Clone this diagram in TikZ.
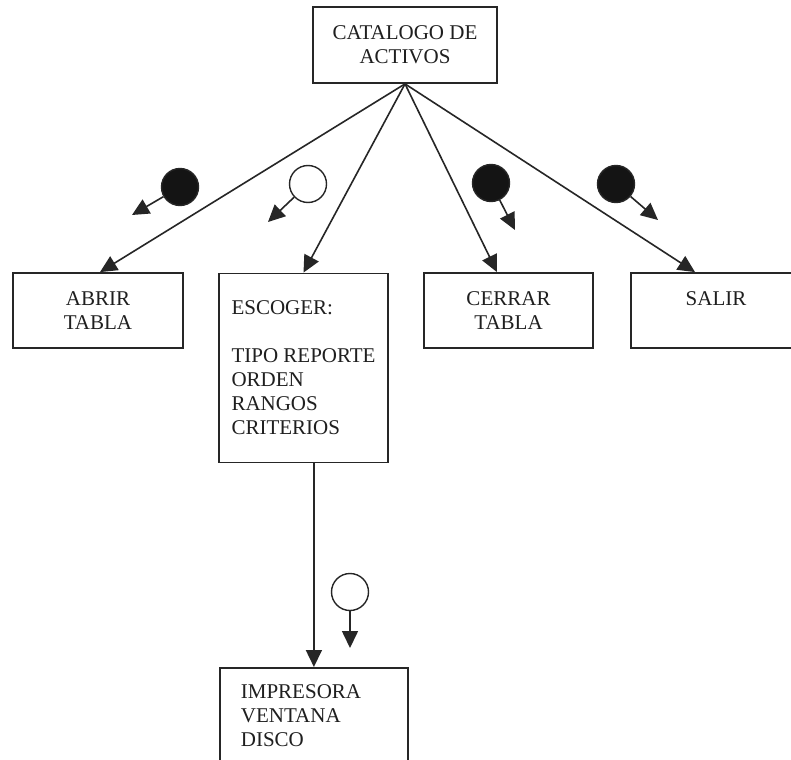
\documentclass[tikz,border=0pt]{standalone}
\usepackage{fontspec}
\setmainfont{Liberation Serif}
\usetikzlibrary{arrows.meta}
\begin{document}
\begin{tikzpicture}[x=1pt,y=-1pt,
  every node/.style={font=\fontsize{21}{24}\selectfont, text=black!88},
  box/.style={draw, line width=1.8pt, draw=black!85, inner sep=0pt, align=center},
  conn/.style={line width=1.6pt, draw=black!85, -{Triangle[length=17pt,width=16pt]}},
  bullet/.style={circle, draw=black!85, line width=1.4pt, minimum size=37pt, inner sep=0pt},
  fullc/.style={bullet, fill=black!92},
  emptyc/.style={bullet, fill=white}]
\useasboundingbox (0,0) rectangle (791,759);
\clip (0,0) rectangle (791,759);
\fill[white] (0,0) rectangle (791,759);

\node[box, minimum width=184pt, minimum height=76pt] (cat) at (405,45) {CATALOGO DE\\ACTIVOS};
\node[box, minimum width=170pt, minimum height=75pt] (abrir) at (98,310.5) {ABRIR\\TABLA};
\node[box, minimum width=169pt, minimum height=189pt, align=left] (esc) at (303.5,368) {ESCOGER:\\[24pt]TIPO REPORTE\\ORDEN\\RANGOS\\CRITERIOS};
\node[box, minimum width=169pt, minimum height=75pt] (cerrar) at (508.5,310.5) {CERRAR\\TABLA};
\node[box, minimum width=170pt, minimum height=75pt] (salir) at (716,310.5) {SALIR\\\mbox{}};
\node[box, minimum width=188pt, minimum height=96pt, anchor=north west, align=left, text width=146pt] (imp) at (219,667) {IMPRESORA\\VENTANA\\DISCO};

\draw[conn] (cat.south) -- ([xshift=2pt]abrir.north);
\draw[conn] (cat.south) -- (esc.north);
\draw[conn] (cat.south) -- ([xshift=-11.5pt]cerrar.north);
\draw[conn] (cat.south) -- ([xshift=-21pt]salir.north);
\draw[conn] (imp.north |- esc.south) -- (imp.north);

\node[fullc] (c1) at (180,187) {};
\node[emptyc] (c2) at (308,184) {};
\node[fullc] (c3) at (491,183) {};
\node[fullc] (c4) at (616,184) {};
\node[emptyc] (c5) at (350,592) {};
\coordinate (t1) at (132,215);
\coordinate (t2) at (268,222);
\coordinate (t3) at (515,230);
\coordinate (t4) at (658,220);
\coordinate (t5) at (350,648);
\draw[conn] (c1) -- (t1);
\draw[conn] (c2) -- (t2);
\draw[conn] (c3) -- (t3);
\draw[conn] (c4) -- (t4);
\draw[conn] (c5) -- (t5);
\end{tikzpicture}
\end{document}
